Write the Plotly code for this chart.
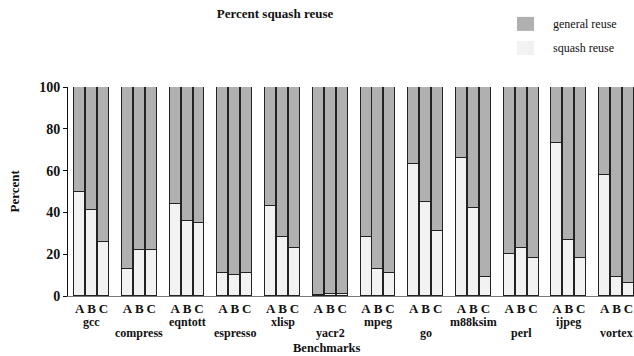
import plotly.graph_objects as go

benchmarks = ["gcc", "compress", "eqntott", "espresso", "xlisp", "yacr2",
              "mpeg", "go", "m88ksim", "perl", "ijpeg", "vortex"]
configs = ["A", "B", "C"]

squash_reuse = [
    50, 41, 26,   # gcc
    13, 22, 22,   # compress
    44, 36, 35,   # eqntott
    11, 10, 11,   # espresso
    43, 28, 23,   # xlisp
    0.3, 1, 1,    # yacr2
    28, 13, 11,   # mpeg
    63, 45, 31,   # go
    66, 42, 9,    # m88ksim
    20, 23, 18,   # perl
    73, 27, 18,   # ijpeg
    58, 9, 6,     # vortex
]
general_reuse = [
    50, 59, 74,
    87, 78, 78,
    56, 64, 65,
    89, 90, 89,
    57, 72, 77,
    99.7, 99, 99,
    72, 87, 89,
    37, 55, 69,
    34, 58, 91,
    80, 77, 82,
    27, 73, 82,
    42, 91, 94,
]
y_ticks = [0, 20, 40, 60, 80, 100]

GROUP_STEP = 4  # 3 bars + 1 gap per benchmark
xpos, xlabels = [], []
for gi, b in enumerate(benchmarks):
    for ci, c in enumerate(configs):
        xpos.append(gi * GROUP_STEP + ci)
        xlabels.append("<b>%s</b>" % c)

SERIF = "Liberation Serif"
fig = go.Figure()
fig.add_trace(go.Bar(x=xpos, y=squash_reuse, name="squash reuse", width=0.92,
                     marker=dict(color="#f2f2f2", line=dict(color="#222222", width=1)),
                     showlegend=False))
fig.add_trace(go.Bar(x=xpos, y=general_reuse, name="general reuse", width=0.92,
                     marker=dict(color="#b0b0b0", line=dict(color="#222222", width=1)),
                     showlegend=False))

annotations = []
for gi, b in enumerate(benchmarks):
    row = gi % 2
    annotations.append(dict(x=gi * GROUP_STEP + 1, xref="x", y=0, yref="paper",
                            text="<b>%s</b>" % b, showarrow=False,
                            yanchor="middle", yshift=-26 if row == 0 else -37,
                            font=dict(family=SERIF, size=12, color="#111")))
annotations.append(dict(x=0.4576, xref="paper", y=0, yref="paper", text="<b>Benchmarks</b>",
                        showarrow=False, yanchor="middle", yshift=-52,
                        font=dict(family=SERIF, size=12.5, color="#111")))
annotations.append(dict(x=0, xref="paper", y=0.5, yref="paper", text="<b>Percent</b>",
                        showarrow=False, textangle=-90, xanchor="center", yanchor="middle",
                        xshift=-54, font=dict(family=SERIF, size=13, color="#111")))
# legend
legend_items = [("general reuse", "#b0b0b0", 24), ("squash reuse", "#f2f2f2", 48)]
shapes = []
for name, col, ypx in legend_items:
    shapes.append(dict(type="rect", xref="paper", yref="paper",
                       x0=(517 - 68) / 566, x1=(534 - 68) / 566,
                       y0=1 + (87 - (ypx + 7)) / 208.7, y1=1 + (87 - (ypx - 7)) / 208.7,
                       fillcolor=col, line=dict(width=0)))
    annotations.append(dict(x=(551 - 68) / 566, xref="paper", y=1 + (87 - ypx) / 208.7,
                            yref="paper", text=name, showarrow=False,
                            xanchor="left", yanchor="middle",
                            font=dict(family=SERIF, size=12, color="#111")))

fig.update_layout(
    width=634, height=356,
    margin=dict(l=68, r=0, t=87, b=60),
    barmode="stack", bargap=0,
    plot_bgcolor="white", paper_bgcolor="white",
    title=dict(text="<b>Percent squash reuse</b>", x=275 / 634, xanchor="center",
               y=1 - 13 / 356, yanchor="middle", xref="container",
               font=dict(family=SERIF, size=13, color="#111")),
    annotations=annotations, shapes=shapes,
    xaxis=dict(range=[-0.98, 46.46], tickmode="array", tickvals=xpos, ticktext=xlabels,
               tickangle=0, ticks="", showgrid=False, zeroline=False, showline=True,
               linecolor="#777777", linewidth=1,
               tickfont=dict(family=SERIF, size=13, color="#111")),
    yaxis=dict(range=[0, 100], tickvals=y_ticks, ticktext=["<b>%d</b>" % v for v in y_ticks],
               ticks="outside", ticklen=4, tickcolor="#111", showgrid=False,
               zeroline=False, showline=True, linecolor="#111", linewidth=1,
               tickfont=dict(family=SERIF, size=14, color="#111")),
)

fig.write_html("out.html")
